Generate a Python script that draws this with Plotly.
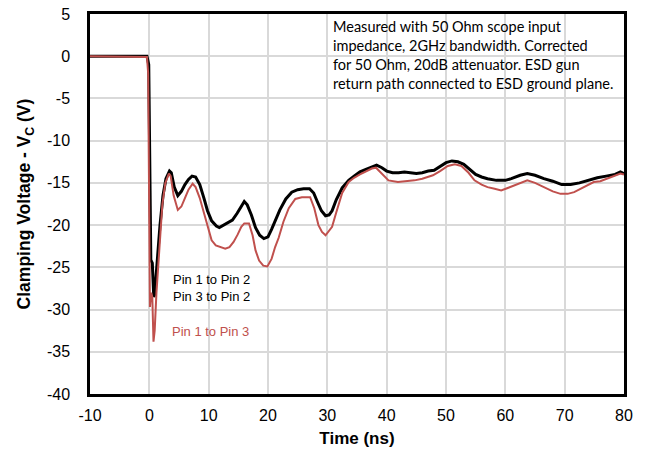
import plotly.graph_objects as go

# Pin 1 to Pin 2 / Pin 3 to Pin 2 (black)
t_black = [-10, -0.4, -0.1, 0.05, 0.15, 0.25, 0.5, 0.75, 0.9, 1.3, 1.8, 2.3, 2.8, 3.4, 3.7, 4.2, 4.8,
           5.4, 6.0, 6.6, 7.2, 7.8, 8.5, 9.2, 9.8, 10.5, 11.3, 11.8, 12.5, 13.2, 14, 14.8, 15.5, 16,
           16.5, 17.2, 17.9, 18.6, 19.3, 20, 20.6, 21.3, 22, 23, 24, 25, 26, 27, 27.7, 28.3, 29,
           29.7, 30.3, 30.8, 31.5, 32.5, 33.6, 34.5, 35.5, 36.5, 37.5, 38.3, 39.2, 40, 41, 42, 43,
           44, 45, 46, 47, 48, 49, 50, 51, 52, 53, 54, 55, 56, 57, 58.5, 60, 61, 62.5, 63.7, 65,
           66.5, 68, 69.5, 71, 72.5, 74, 75.5, 77, 78.5, 79.4, 80]
v_black = [0, 0, -1, -10, -22, -24.1, -24.5, -28.5, -28.2, -24, -20, -16.5, -14.5, -13.6, -13.8,
           -15.5, -16.5, -16, -15.2, -14.6, -14.2, -14.3, -15.2, -16.8, -18.3, -19.5, -20.1, -20.3,
           -20, -19.8, -19.4, -18.6, -17.7, -17.2, -17.6, -18.8, -20.3, -21.2, -21.6, -21.4, -20.5,
           -19.3, -18.2, -16.9, -16.1, -15.8, -15.7, -15.7, -16.2, -17.2, -18.3, -18.9, -18.8,
           -18.3, -17, -15.6, -14.7, -14.2, -13.7, -13.4, -13.1, -12.9, -13.2, -13.6, -13.8, -13.8,
           -13.7, -13.8, -13.9, -13.8, -13.6, -13.5, -13.1, -12.6, -12.4, -12.5, -12.8, -13.4, -14,
           -14.3, -14.5, -14.7, -14.7, -14.5, -14.1, -13.9, -14.1, -14.5, -14.8, -15.2, -15.2, -15,
           -14.7, -14.4, -14.2, -14, -13.7, -13.9]

# Pin 1 to Pin 3 (red)
t_red = [-10, -0.4, -0.2, -0.1, 0.0, 0.1, 0.3, 0.5, 0.7, 0.9, 1.2, 1.7, 2.2, 2.7, 3.3, 3.6, 4.1,
         4.8, 5.4, 6.0, 6.6, 7.3, 7.8, 8.5, 9.2, 9.8, 10.5, 11.2, 12, 12.8, 13.5, 14.2, 14.9, 15.5,
         16, 16.8, 17.4, 17.9, 18.5, 19.2, 19.9, 20.6, 21.2, 21.8, 22.6, 23.5, 24.6, 25.7, 27.1,
         27.8, 28.5, 29.1, 29.7, 30.3, 30.8, 31.5, 32.5, 33.6, 34.5, 35.5, 36.5, 37.5, 38.2, 39,
         40.3, 41.9, 43.3, 44.7, 46, 47, 47.8, 49, 50.3, 51.5, 52.6, 53.8, 54.8, 56, 57, 58.2,
         59.3, 60.4, 61.5, 62.6, 63.7, 65, 66.5, 68, 69.3, 70.5, 71.6, 73, 74.9, 76, 77.1, 78.3,
         79.4, 80]
v_red = [0, -0.1, -2, -10, -24, -29.7, -28, -28.5, -33.8, -32.5, -28, -22, -17.5, -15, -13.9,
         -14.2, -16.5, -18.2, -17.8, -16.8, -15.8, -15.1, -15.5, -16.8, -18.5, -20.2, -21.8, -22.4,
         -22.6, -22.8, -22.6, -22, -21.1, -20.2, -19.8, -19.8, -21.2, -23, -24.2, -24.8, -24.9,
         -24, -22.6, -21.5, -19.6, -18, -16.9, -16.7, -16.7, -18, -20, -20.8, -21.2, -20.7, -20.2,
         -18.5, -16.2, -14.9, -14.4, -14, -13.6, -13.3, -13.2, -13.8, -14.7, -14.9, -14.8, -14.7,
         -14.5, -14.3, -14.1, -13.6, -13, -12.8, -13, -13.8, -14.7, -15.2, -15.5, -15.7, -15.9,
         -15.6, -15.3, -15, -14.7, -15, -15.5, -16, -16.3, -16.3, -16.1, -15.6, -14.9, -14.8,
         -14.5, -14.2, -13.9, -14]

x_ticks = [-10, 0, 10, 20, 30, 40, 50, 60, 70, 80]
x_ticktext = ["-10", "0", "10", "20", "30", "40", "50", "60", "70", "80"]
y_ticks = [5, 0, -5, -10, -15, -20, -25, -30, -35, -40]
y_ticktext = ["5", "0", "-5", "-10", "-15", "-20", "-25", "-30", "-35", "-40"]

note = ("Measured with 50 Ohm scope input<br>impedance, 2GHz bandwidth. Corrected<br>"
        "for 50 Ohm, 20dB attenuator. ESD gun<br>return path connected to ESD ground plane.")

fig = go.Figure()
fig.add_trace(go.Scatter(x=t_black, y=v_black, mode="lines",
                         line=dict(color="#000000", width=3), name="Pin 1 to Pin 2"))
fig.add_trace(go.Scatter(x=t_red, y=v_red, mode="lines",
                         line=dict(color="#C0504D", width=2), name="Pin 1 to Pin 3"))

W, H = 647, 451
L, R, T, B = 90, 23, 14, 57
pw, ph = W - L - R, H - T - B

def px(x):
    return (x - L) / pw

def py(y):
    return (H - B - y) / ph

ARIAL = "Liberation Sans, Arial, sans-serif"

# white backgrounds of the text boxes (above gridlines, below data)
fig.add_shape(type="rect", xref="paper", yref="paper", layer="between",
              x0=px(325), x1=px(609), y0=py(106), y1=py(15),
              fillcolor="white", line=dict(width=0))
fig.add_shape(type="rect", xref="paper", yref="paper", layer="between",
              x0=px(167), x1=px(260), y0=py(346), y1=py(267),
              fillcolor="white", line=dict(width=0))

fig.add_annotation(xref="paper", yref="paper", x=px(331), y=py(55), xanchor="left", yanchor="middle",
                   text=note, showarrow=False, align="left",
                   font=dict(family="Lato, Open Sans, sans-serif", size=14.5, color="#000000"))
fig.add_annotation(xref="paper", yref="paper", x=px(211), y=py(288), xanchor="center", yanchor="middle",
                   text="Pin 1 to Pin 2<br>Pin 3 to Pin 2", showarrow=False, align="center",
                   font=dict(family=ARIAL, size=13, color="#000000"))
fig.add_annotation(xref="paper", yref="paper", x=px(210), y=py(331.5), xanchor="center", yanchor="middle",
                   text="Pin 1 to Pin 3", showarrow=False, align="center",
                   font=dict(family=ARIAL, size=13, color="#C0504D"))

axis_common = dict(showline=True, linecolor="#000000", linewidth=2.5, mirror=True,
                   showgrid=True, gridcolor="#D9D9D9", gridwidth=1.5, zeroline=False,
                   automargin=False,
                   ticks="", tickfont=dict(family=ARIAL, size=16, color="#000000"))

fig.update_layout(
    width=W, height=H, margin=dict(l=L, r=R, t=T, b=B),
    paper_bgcolor="white", plot_bgcolor="white", showlegend=False,
    xaxis=dict(range=[-10, 80], tickvals=x_ticks, ticktext=x_ticktext, ticklabelstandoff=5,
               title=dict(text="<b>Time (ns)</b>", standoff=10,
                          font=dict(family=ARIAL, size=17, color="#000000")),
               **axis_common),
    yaxis=dict(range=[-40, 5], tickvals=y_ticks, ticktext=y_ticktext, ticklabelstandoff=14,
               title=dict(text="<b>Clamping Voltage - V<sub>C</sub> (V)</b>", standoff=12,
                          font=dict(family=ARIAL, size=17.5, color="#000000")),
               **axis_common),
)

fig.write_html("out.html")
